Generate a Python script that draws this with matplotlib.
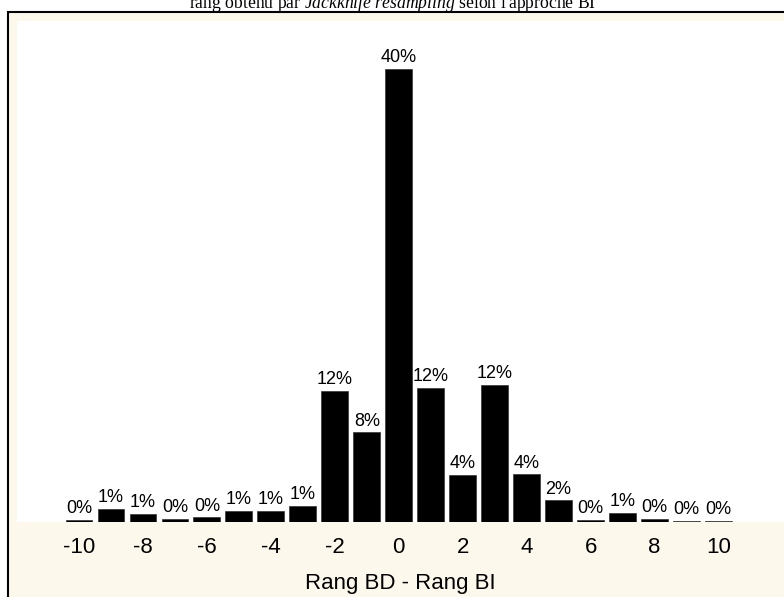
import numpy as np
import matplotlib.pyplot as plt
from matplotlib.patches import Rectangle

plt.rcParams['mathtext.fontset'] = 'custom'
plt.rcParams['mathtext.it'] = 'Liberation Serif:italic'
plt.rcParams['mathtext.rm'] = 'Liberation Serif'

# difference of rank (BD - BI) and share of cases, in %
rang = np.arange(-10, 11)
pct = [0.15, 1.15, 0.7, 0.3, 0.4, 1.0, 1.0, 1.4, 11.6, 7.9, 40.0,
       11.8, 4.15, 12.1, 4.2, 1.9, 0.2, 0.8, 0.3, 0.1, 0.1]
labels = ['0%', '1%', '1%', '0%', '0%', '1%', '1%', '1%', '12%', '8%', '40%',
          '12%', '4%', '12%', '4%', '2%', '0%', '1%', '0%', '0%', '0%']
ticks = [-10, -8, -6, -4, -2, 0, 2, 4, 6, 8, 10]

W, H = 784, 597
fig = plt.figure(figsize=(W / 100, H / 100), dpi=100)
fig.patch.set_facecolor('white')

# cream frame with black border
frame = Rectangle((8 / W, -0.05), 1.0, 1 - 11.5 / H + 0.05, transform=fig.transFigure,
                  facecolor='#fdf8ec', edgecolor='black', linewidth=1.5, zorder=-1)
fig.patches.append(frame)

fig.text(393 / W, 1 - 8.5 / H, "rang obtenu par $\\it{Jackknife\\ resampling}$ selon l'approche BI",
         ha='center', va='baseline', fontsize=12.7, family='Liberation Serif')

ax = fig.add_axes([17 / W, 1 - 522 / H, 1 - 17 / W, (522 - 21) / H])
ax.set_zorder(1)
ax.set_facecolor('white')
ax.bar(rang, pct, width=0.84, color='black', edgecolor='#333333', linewidth=0.5)
for x, v, lab in zip(rang, pct, labels):
    ax.text(x, v + 0.25, lab, ha='center', va='bottom', fontsize=13, family='Liberation Sans')

ax.set_xlim(-11.94, 12.05)
ax.set_ylim(0, 44.2)
ax.set_xticks(ticks)
ax.set_xticklabels([str(t) for t in ticks], fontsize=16, family='Liberation Sans')
ax.tick_params(axis='x', length=0, pad=11)
ax.set_yticks([])
for s in ax.spines.values():
    s.set_visible(False)
ax.set_xlabel('Rang BD - Rang BI', fontsize=16, family='Liberation Sans', labelpad=10.5)

fig.savefig('out.png', dpi=100)
